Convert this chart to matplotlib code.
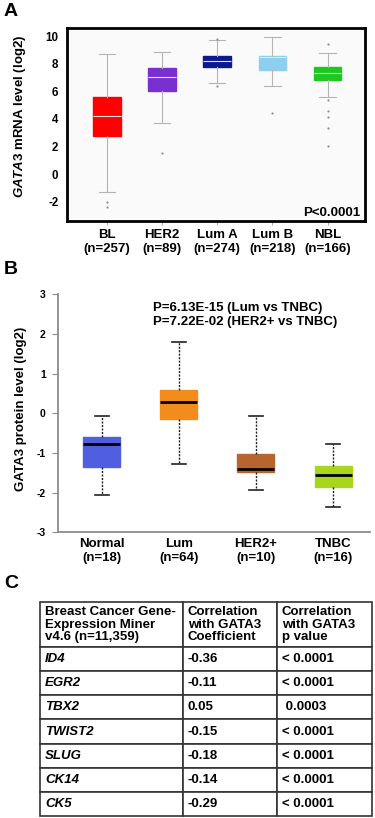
import matplotlib
matplotlib.use("Agg")
import matplotlib.pyplot as plt

plt.rcParams["font.family"] = ["Liberation Sans", "DejaVu Sans"]
plt.rcParams["axes.unicode_minus"] = False
plt.rcParams["mathtext.fontset"] = "custom"
plt.rcParams["mathtext.rm"] = "Liberation Sans:bold"
plt.rcParams["mathtext.it"] = "Liberation Sans:italic:bold"

# ---- panel A: GATA3 mRNA by PAM50 subtype (box stats)
a_labels = ["BL\n(n=257)", "HER2\n(n=89)", "Lum A\n(n=274)", "Lum B\n(n=218)", "NBL\n(n=166)"]
a_colors = ["#ff0000", "#7a2fd2", "#0b1a8c", "#8ccfee", "#1ec81e"]
a_q1 = [2.75, 6.04, 7.78, 7.56, 6.83]
a_med = [4.22, 7.0, 8.16, 8.5, 7.3]
a_q3 = [5.56, 7.68, 8.55, 8.55, 7.75]
a_lo = [-1.28, 3.72, 6.62, 6.35, 5.6]
a_hi = [8.72, 8.82, 9.7, 9.95, 8.77]
a_fliers = [[-2.0, -2.4], [1.55], [9.78, 6.38], [4.4],
            [9.4, 5.36, 4.59, 4.15, 3.31, 2.03]]

# ---- panel B: GATA3 protein (CPTAC)
b_labels = ["Normal\n(n=18)", "Lum\n(n=64)", "HER2+\n(n=10)", "TNBC\n(n=16)"]
b_colors = ["#4f5fe0", "#f28c1c", "#b5652d", "#a8d61e"]
b_q1 = [-1.35, -0.14, -1.49, -1.86]
b_med = [-0.77, 0.28, -1.4, -1.55]
b_q3 = [-0.6, 0.59, -1.03, -1.34]
b_lo = [-2.05, -1.28, -1.94, -2.35]
b_hi = [-0.07, 1.79, -0.07, -0.78]
b_note = "P=6.13E-15 (Lum vs TNBC)\nP=7.22E-02 (HER2+ vs TNBC)"

# ---- panel C: correlation table
c_header = ["Breast Cancer Gene-\nExpression Miner\nv4.6 (n=11,359)",
            "Correlation\nwith GATA3\nCoefficient",
            "Correlation\nwith GATA3\np value"]
c_genes = ["ID4", "EGR2", "TBX2", "TWIST2", "SLUG", "CK14", "CK5"]
c_coef = ["-0.36", "-0.11", "0.05", "-0.15", "-0.18", "-0.14", "-0.29"]
c_pval = ["< 0.0001", "< 0.0001", " 0.0003", "< 0.0001", "< 0.0001", "< 0.0001", "< 0.0001"]

W, H = 375, 818
fig = plt.figure(figsize=(W / 100, H / 100), dpi=100)


def px_axes(x0, y0, x1, y1):
    return fig.add_axes([x0 / W, 1 - y1 / H, (x1 - x0) / W, (y1 - y0) / H])


def stats(q1, med, q3, lo, hi, fl=None):
    out = []
    for i in range(len(q1)):
        out.append(dict(q1=q1[i], med=med[i], q3=q3[i], whislo=lo[i], whishi=hi[i],
                        fliers=fl[i] if fl else []))
    return out


# panel A
ax = px_axes(66.7, 28, 365, 221)
ax.set_facecolor("#fafafa")
bp = ax.bxp(stats(a_q1, a_med, a_q3, a_lo, a_hi, a_fliers), positions=range(1, 6),
            widths=0.5, capwidths=0.3, patch_artist=True, showfliers=True,
            medianprops=dict(color="#e6e6e6", lw=0.8),
            whiskerprops=dict(color="#b4b4b4", lw=0.8),
            capprops=dict(color="#b4b4b4", lw=0.8),
            flierprops=dict(marker="o", markersize=1.6, markerfacecolor="#909090",
                            markeredgecolor="none"))
for patch, c in zip(bp["boxes"], a_colors):
    patch.set_facecolor(c)
    patch.set_edgecolor(c)
ax.set_xlim(0.27, 5.68)
ax.set_ylim(-3.4, 10.58)
ax.set_yticks([-2, 0, 2, 4, 6, 8, 10])
ax.set_xticks(range(1, 6), a_labels)
for lab in ax.get_xticklabels():
    lab.set_fontweight("bold"); lab.set_fontsize(9.5)
for lab in ax.get_yticklabels():
    lab.set_fontweight("bold"); lab.set_fontsize(8.3)
ax.tick_params(axis="y", length=0, pad=6)
ax.tick_params(axis="x", length=3, color="#b0b0b0", pad=3)
for s in ax.spines.values():
    s.set_linewidth(2); s.set_color("black")
ax.set_ylabel(r"$\mathit{GATA3}$ mRNA level (log2)", fontsize=9.5, fontweight="bold")
ax.yaxis.set_label_coords(-0.13, 0.54)
ax.text(0.983, 0.043, "P<0.0001", transform=ax.transAxes, ha="right", va="center",
        fontsize=9.5, fontweight="bold")

# panel B
bx = px_axes(58.3, 294.3, 370, 532.3)
bp = bx.bxp(stats(b_q1, b_med, b_q3, b_lo, b_hi), positions=range(1, 5),
            widths=0.48, capwidths=0.18, patch_artist=True, showfliers=False,
            medianprops=dict(color="black", lw=2),
            whiskerprops=dict(color="#222222", lw=1, linestyle=(0, (1.5, 1))),
            capprops=dict(color="#222222", lw=1.2))
for patch, c in zip(bp["boxes"], b_colors):
    patch.set_facecolor(c)
    patch.set_edgecolor(c)
bx.set_xlim(0.436, 4.48)
bx.set_ylim(-3, 3)
bx.set_yticks(range(-3, 4))
bx.set_xticks(range(1, 5), b_labels)
for lab in bx.get_xticklabels():
    lab.set_fontweight("bold"); lab.set_fontsize(9.5)
for lab in bx.get_yticklabels():
    lab.set_fontweight("bold"); lab.set_fontsize(7.5)
bx.spines["top"].set_visible(False)
bx.spines["right"].set_visible(False)
for s in ("left", "bottom"):
    bx.spines[s].set_color("#8c8c8c"); bx.spines[s].set_linewidth(1.3)
bx.tick_params(axis="y", length=4, color="#8c8c8c", pad=5)
bx.tick_params(axis="x", length=0, pad=4)
bx.set_ylabel("GATA3 protein level (log2)", fontsize=9.5, fontweight="bold")
bx.yaxis.set_label_coords(-0.1, 0.52)
bx.text(0.304, 0.913, b_note, transform=bx.transAxes, ha="left", va="center",
        fontsize=9.5, fontweight="bold", linespacing=1.3)

# panel C
cx = px_axes(40, 602, 372, 816)
cx.axis("off")
rows = [[g, c, p] for g, c, p in zip(c_genes, c_coef, c_pval)]
tbl = cx.table(cellText=rows, colLabels=c_header, cellLoc="left", colLoc="left",
               colWidths=[143 / 332, 94 / 332, 95 / 332], bbox=[0, 0, 1, 1])
tbl.auto_set_font_size(False)
for (r, col), cell in tbl.get_celld().items():
    cell.set_height(45 if r == 0 else 24.1)
    cell.set_edgecolor("#333333")
    cell.set_linewidth(1.2)
    cell.PAD = 0.035 if col == 0 else 0.05
    t = cell.get_text()
    t.set_fontsize(9.5)
    t.set_fontweight("bold")
    t.set_linespacing(1.1)
    if r > 0 and col == 0:
        t.set_fontstyle("italic")

# panel letters
for lab, y in (("A", 12), ("B", 269), ("C", 583)):
    fig.text(4 / W, 1 - y / H, lab, fontsize=14, fontweight="bold", va="center")

fig.savefig("out.png", dpi=100)
